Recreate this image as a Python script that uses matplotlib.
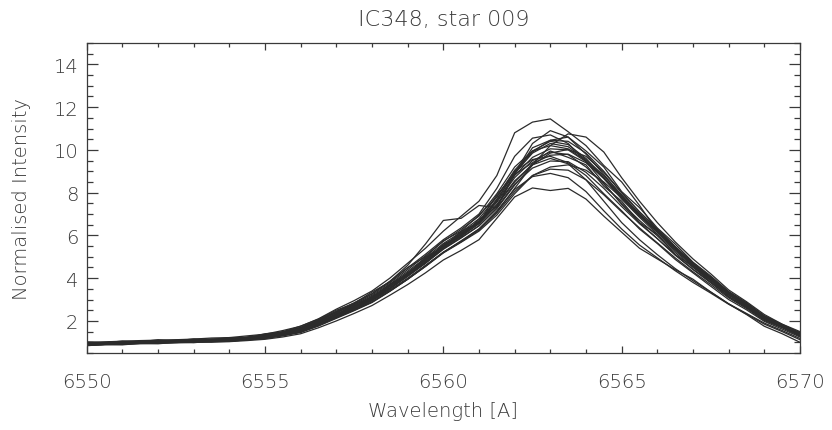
import matplotlib
matplotlib.use("Agg")
import matplotlib.pyplot as plt
from matplotlib.ticker import MultipleLocator

# wavelength grid, 0.5 A steps from 6550 to 6570
wavelength = [6550.0 + 0.5 * i for i in range(41)]

# individual H-alpha profiles (normalised intensity)
spec_01 = [0.90, 0.95, 0.98, 1.00, 1.02, 1.03, 1.06, 1.08, 1.12, 1.18, 1.26, 1.40, 1.58, 1.92, 2.30, 2.66, 3.05, 3.62, 4.20, 4.82, 5.50,
           6.02, 6.60, 7.55, 8.70, 9.50, 9.90, 9.78, 9.20, 8.40, 7.50, 6.70, 5.98, 5.20, 4.50, 3.88, 3.20, 2.70, 2.12, 1.76, 1.36]
spec_02 = [1.00, 1.02, 1.05, 1.08, 1.10, 1.12, 1.15, 1.20, 1.22, 1.30, 1.38, 1.55, 1.75, 2.10, 2.55, 2.95, 3.40, 4.00, 4.70, 5.40, 6.20,
           6.90, 7.60, 8.80, 10.80, 11.30, 11.45, 10.85, 10.20, 9.27, 8.50, 7.40, 6.20, 5.40, 4.60, 3.90, 3.25, 2.70, 2.15, 1.75, 1.45]
spec_03 = [0.85, 0.88, 0.90, 0.93, 0.95, 0.97, 1.00, 1.00, 1.03, 1.08, 1.14, 1.25, 1.40, 1.68, 2.00, 2.35, 2.72, 3.20, 3.70, 4.25, 4.85,
           5.30, 5.80, 6.80, 7.80, 8.22, 8.10, 8.20, 7.70, 6.90, 6.15, 5.40, 4.90, 4.40, 3.95, 3.35, 2.80, 2.30, 1.75, 1.40, 1.00]
spec_04 = [0.95, 0.98, 1.00, 1.02, 1.05, 1.06, 1.10, 1.12, 1.15, 1.20, 1.28, 1.40, 1.55, 1.85, 2.20, 2.55, 2.95, 3.45, 4.00, 4.60, 5.20,
           5.75, 6.30, 7.10, 8.20, 9.30, 10.20, 10.75, 10.60, 9.90, 8.70, 7.60, 6.60, 5.70, 4.90, 4.20, 3.45, 2.90, 2.30, 1.85, 1.50]
spec_05 = [0.92, 0.96, 0.97, 1.02, 1.04, 1.02, 1.08, 1.10, 1.13, 1.20, 1.30, 1.45, 1.62, 1.98, 2.38, 2.75, 3.15, 3.72, 4.32, 4.95, 5.62,
           6.15, 6.78, 7.80, 9.05, 9.95, 10.40, 10.25, 9.60, 8.70, 7.70, 6.85, 6.05, 5.28, 4.55, 3.92, 3.25, 2.72, 2.15, 1.78, 1.40]
spec_06 = [0.88, 0.93, 0.95, 0.98, 1.00, 1.04, 1.03, 1.07, 1.10, 1.15, 1.22, 1.35, 1.52, 1.85, 2.22, 2.58, 2.98, 3.50, 4.08, 4.70, 5.35,
           5.88, 6.45, 7.30, 8.40, 9.15, 9.48, 9.45, 8.95, 8.20, 7.35, 6.55, 5.85, 5.10, 4.42, 3.82, 3.15, 2.65, 2.08, 1.72, 1.32]
spec_07 = [0.95, 0.97, 1.00, 1.01, 1.05, 1.08, 1.07, 1.12, 1.14, 1.22, 1.30, 1.42, 1.60, 1.90, 2.25, 2.60, 3.00, 3.52, 4.10, 4.70, 5.38,
           5.90, 6.45, 7.25, 8.35, 9.30, 9.85, 10.02, 9.70, 8.95, 8.00, 7.10, 6.30, 5.48, 4.72, 4.05, 3.35, 2.82, 2.22, 1.82, 1.42]
spec_08 = [0.90, 0.92, 0.96, 0.99, 1.00, 1.02, 1.05, 1.06, 1.09, 1.14, 1.20, 1.32, 1.48, 1.78, 2.15, 2.50, 2.88, 3.40, 3.95, 4.55, 5.20,
           5.70, 6.25, 7.05, 8.05, 8.80, 9.10, 9.05, 8.60, 7.90, 7.10, 6.35, 5.65, 4.95, 4.30, 3.70, 3.08, 2.58, 2.02, 1.68, 1.28]
spec_09 = [0.98, 1.00, 1.03, 1.05, 1.08, 1.10, 1.12, 1.15, 1.18, 1.25, 1.35, 1.50, 1.70, 2.05, 2.45, 2.85, 3.28, 3.85, 4.48, 5.12, 5.80,
           6.35, 7.00, 8.20, 9.70, 10.55, 10.70, 10.30, 9.45, 8.45, 7.45, 6.60, 5.85, 5.08, 4.40, 3.78, 3.12, 2.62, 2.06, 1.70, 1.34]
spec_10 = [0.93, 0.96, 0.98, 1.03, 1.04, 1.06, 1.09, 1.10, 1.15, 1.22, 1.32, 1.48, 1.68, 2.02, 2.42, 2.82, 3.25, 3.85, 4.60, 5.60, 6.70,
           6.80, 7.40, 7.30, 8.90, 10.30, 10.90, 10.60, 9.80, 8.85, 7.85, 6.95, 6.15, 5.35, 4.62, 3.98, 3.30, 2.78, 2.20, 1.80, 1.42]
spec_11 = [0.87, 0.90, 0.94, 0.97, 0.99, 1.01, 1.03, 1.05, 1.08, 1.13, 1.20, 1.34, 1.50, 1.82, 2.20, 2.58, 2.98, 3.52, 4.12, 4.75, 5.42,
           5.95, 6.55, 7.45, 8.55, 9.30, 9.60, 9.35, 8.60, 7.60, 6.60, 5.80, 5.10, 4.45, 3.88, 3.35, 2.80, 2.35, 1.90, 1.55, 1.18]
spec_12 = [0.91, 0.94, 0.99, 1.00, 1.03, 1.05, 1.08, 1.09, 1.13, 1.18, 1.27, 1.42, 1.60, 1.95, 2.33, 2.70, 3.10, 3.66, 4.26, 4.88, 5.55,
           6.08, 6.68, 7.60, 8.80, 9.65, 10.05, 10.00, 9.45, 8.65, 7.75, 6.90, 6.15, 5.35, 4.62, 3.98, 3.28, 2.76, 2.18, 1.78, 1.38]
spec_13 = [0.94, 0.96, 0.99, 1.02, 1.03, 1.06, 1.08, 1.11, 1.12, 1.17, 1.25, 1.38, 1.54, 1.84, 2.18, 2.52, 2.90, 3.40, 3.95, 4.55, 5.18,
           5.68, 6.20, 6.95, 7.95, 8.80, 9.20, 9.30, 9.05, 8.50, 7.75, 6.95, 6.20, 5.42, 4.68, 4.02, 3.32, 2.80, 2.20, 1.80, 1.45]
spec_14 = [0.89, 0.92, 0.95, 0.99, 1.01, 1.04, 1.05, 1.09, 1.11, 1.16, 1.24, 1.38, 1.56, 1.88, 2.26, 2.64, 3.05, 3.60, 4.20, 4.85, 5.52,
           6.05, 6.65, 7.65, 8.95, 9.90, 10.45, 10.40, 9.85, 9.00, 8.00, 7.10, 6.30, 5.48, 4.70, 4.02, 3.32, 2.78, 2.18, 1.77, 1.36]
spec_15 = [0.86, 0.90, 0.92, 0.96, 0.98, 0.99, 1.02, 1.04, 1.06, 1.11, 1.18, 1.30, 1.46, 1.76, 2.12, 2.48, 2.86, 3.38, 3.95, 4.58, 5.22,
           5.72, 6.30, 7.15, 8.15, 8.75, 8.90, 8.70, 8.05, 7.15, 6.30, 5.55, 4.95, 4.35, 3.80, 3.30, 2.78, 2.32, 1.85, 1.50, 1.12]
spec_16 = [0.93, 0.95, 0.97, 1.01, 1.02, 1.05, 1.06, 1.10, 1.12, 1.19, 1.26, 1.40, 1.57, 1.88, 2.25, 2.60, 3.00, 3.55, 4.15, 4.78, 5.45,
           5.98, 6.55, 7.40, 8.50, 9.35, 9.75, 9.80, 9.40, 8.70, 7.85, 7.00, 6.22, 5.42, 4.68, 4.02, 3.32, 2.78, 2.20, 1.79, 1.40]
spec_17 = [0.96, 0.99, 1.02, 1.04, 1.06, 1.09, 1.11, 1.14, 1.17, 1.23, 1.33, 1.47, 1.66, 2.00, 2.40, 2.78, 3.20, 3.78, 4.40, 5.05, 5.72,
           6.28, 6.90, 7.95, 9.20, 9.95, 10.20, 10.05, 9.50, 8.70, 7.80, 6.95, 6.15, 5.35, 4.60, 3.95, 3.26, 2.74, 2.16, 1.77, 1.37]
spec_18 = [0.97, 0.92, 1.00, 0.96, 1.05, 1.00, 1.10, 1.04, 1.15, 1.12, 1.30, 1.36, 1.62, 1.85, 2.35, 2.60, 3.15, 3.50, 4.25, 4.70, 5.60,
           5.95, 6.75, 7.35, 8.85, 9.40, 9.95, 9.65, 9.30, 8.30, 7.60, 6.60, 6.05, 5.10, 4.55, 3.80, 3.25, 2.65, 2.15, 1.72, 1.38]
spec_19 = [0.84, 0.90, 0.88, 0.95, 0.93, 1.00, 0.98, 1.06, 1.04, 1.12, 1.18, 1.34, 1.48, 1.86, 2.18, 2.70, 3.02, 3.70, 4.15, 4.98, 5.45,
           6.20, 6.60, 7.90, 8.85, 10.10, 10.45, 10.60, 9.95, 9.20, 8.05, 7.30, 6.35, 5.60, 4.75, 4.10, 3.38, 2.86, 2.24, 1.84, 1.44]
spec_20 = [1.02, 0.97, 1.06, 1.02, 1.12, 1.06, 1.16, 1.12, 1.22, 1.20, 1.40, 1.48, 1.76, 2.08, 2.50, 2.82, 3.35, 3.82, 4.50, 5.00, 5.75,
           6.20, 6.95, 7.80, 9.00, 9.55, 9.70, 9.40, 8.80, 7.95, 7.15, 6.30, 5.62, 4.88, 4.25, 3.62, 3.00, 2.52, 1.98, 1.62, 1.25]
spec_21 = [0.92, 0.98, 0.95, 1.04, 1.00, 1.08, 1.04, 1.14, 1.10, 1.22, 1.24, 1.44, 1.58, 1.96, 2.28, 2.76, 3.08, 3.70, 4.22, 4.92, 5.48,
           6.12, 6.62, 7.70, 8.90, 9.85, 10.30, 10.15, 9.55, 8.80, 7.90, 7.00, 6.25, 5.40, 4.70, 3.98, 3.34, 2.76, 2.22, 1.76, 1.42]

spectra = [spec_01, spec_02, spec_03, spec_04, spec_05, spec_06, spec_07, spec_08, spec_09, spec_10, spec_11,
           spec_12, spec_13, spec_14, spec_15, spec_16, spec_17, spec_18, spec_19, spec_20, spec_21]

title = 'IC348, star 009'
xlabel = 'Wavelength [A]'
ylabel = 'Normalised Intensity'

ink = '#3a3a3a'
plt.rcParams['font.family'] = 'DejaVu Sans'
plt.rcParams['font.weight'] = 'light'

fig = plt.figure(figsize=(8.32, 4.31), dpi=100)
ax = fig.add_axes([0.1042, 0.1787, 0.8573, 0.7192])

for flux in spectra:
    ax.plot(wavelength, flux, color='#2b2b2b', lw=0.9)

ax.set_xlim(6550, 6570)
ax.set_ylim(0.5, 15)
ax.xaxis.set_major_locator(MultipleLocator(5))
ax.xaxis.set_minor_locator(MultipleLocator(1))
ax.yaxis.set_minor_locator(MultipleLocator(0.5))
ax.set_yticks([2, 4, 6, 8, 10, 12, 14])

ax.tick_params(axis='both', which='both', direction='in', top=True, right=True,
               colors=ink, width=0.9, labelsize=14)
ax.tick_params(axis='x', which='major', length=5, pad=14)
ax.tick_params(axis='x', which='minor', length=2.8)
ax.tick_params(axis='y', which='major', length=8, pad=6)
ax.tick_params(axis='y', which='minor', length=4.3)
for sp in ax.spines.values():
    sp.set_color(ink)
    sp.set_linewidth(0.9)

ax.set_title(title, fontsize=16, color=ink, pad=13, fontweight='light')
ax.set_xlabel(xlabel, fontsize=14, color=ink, labelpad=7, fontweight='light')
ax.set_ylabel(ylabel, fontsize=14, color=ink, labelpad=16, fontweight='light')

fig.savefig('out.png', dpi=100)
